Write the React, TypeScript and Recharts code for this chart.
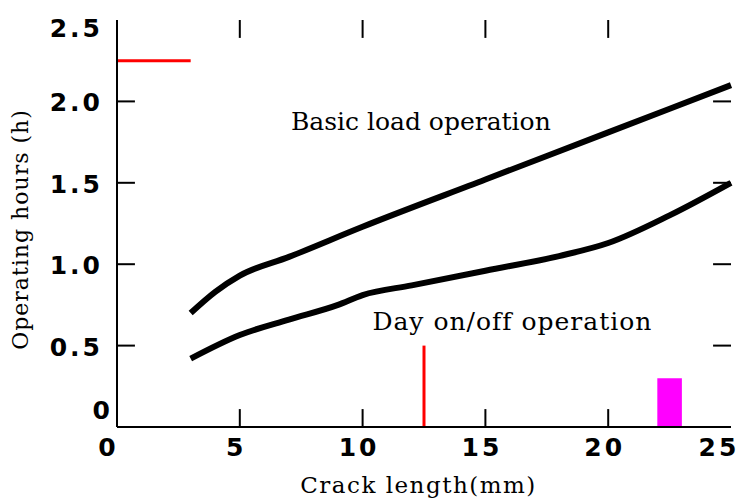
import React from 'react';
import { LineChart, Line, XAxis, YAxis, ReferenceDot, ReferenceLine, ReferenceArea } from 'recharts';

// Crack length (mm) and operating hours (h)
const crackLengthBasic = [3, 4, 5, 7, 10, 15, 20, 25];
const hoursBasic = [0.70, 0.83, 0.93, 1.045, 1.23, 1.52, 1.81, 2.10];

const crackLengthDay = [3, 5, 7, 9, 10, 12, 15, 18, 20, 22.5, 25];
const hoursDay = [0.42, 0.565, 0.66, 0.75, 0.81, 0.87, 0.96, 1.05, 1.13, 1.30, 1.50];

const xTicks = [0, 5, 10, 15, 20, 25];
const yTicks = [0, 0.5, 1.0, 1.5, 2.0, 2.5];

const basicLabel = 'Basic load operation';
const dayLabel = 'Day on/off operation';
const xTitle = 'Crack length(mm)';
const yTitle = 'Operating hours (h)';

const X_DOMAIN: [number, number] = [0, 25];
const Y_DOMAIN: [number, number] = [0, 2.5];

const basicData = crackLengthBasic.map((x, i) => ({ x, y: hoursBasic[i] }));
const dayData = crackLengthDay.map((x, i) => ({ x, y: hoursDay[i] }));

const TICK_FONT = { fontFamily: 'DejaVu Sans', fontWeight: 'bold' as const, fontSize: 25, letterSpacing: 3 };
const SERIF = 'DejaVu Serif';
const TICK_LEN_Y_UNITS = 0.11;
const TICK_LEN_X_UNITS = 0.73;
const axisLineStyle = { stroke: '#000', strokeWidth: 2 };

const BottomTick = (props: any) => {
  const { x, y, payload } = props;
  const v = payload.value;
  let dx = -3.5;
  if (v === 0) dx = -8.5;
  if (v === 25) dx = -12;
  return (
    <text x={x + dx} y={y + 29} textAnchor="middle" fill="#000" {...TICK_FONT}>{String(v)}</text>
  );
};

const LeftTick = (props: any) => {
  const { x, y, payload } = props;
  const v = payload.value;
  const label = v === 0 ? '0' : v.toFixed(1);
  let tx = x - 14;
  let ty = y + 10;
  if (v === 0) { tx = x - 4; ty = y - 8; }
  if (v === 2.5) { ty = y + 17; }
  return (
    <text x={tx} y={ty} textAnchor="end" fill="#000" {...TICK_FONT}>{label}</text>
  );
};

const XTitle = (props: any) => {
  const vb = props.viewBox || { x: 117, y: 427, width: 614, height: 73 };
  return (
    <text x={vb.x + vb.width / 2 - 5.5} y={vb.y + 66} textAnchor="middle" fill="#000"
      fontFamily={SERIF} fontSize={23} letterSpacing={1.5}>{xTitle}</text>
  );
};

const YTitle = (props: any) => {
  const vb = props.viewBox || { x: 0, y: 20, width: 117, height: 407 };
  const cx = vb.x + 28;
  const cy = vb.y + vb.height / 2 + 6;
  return (
    <text x={cx} y={cy} transform={`rotate(-90, ${cx}, ${cy})`} textAnchor="middle" fill="#000"
      fontFamily={SERIF} fontSize={22} letterSpacing={1}>{yTitle}</text>
  );
};

const annot = (text: string, ls: number) => (props: any) => {
  const vb = props.viewBox || { x: 0, y: 0 };
  return (
    <text x={vb.x} y={vb.y} textAnchor="middle" fill="#000" fontFamily={SERIF} fontSize={25} letterSpacing={ls}>{text}</text>
  );
};

const innerX = xTicks.filter((t) => t > X_DOMAIN[0] && t < X_DOMAIN[1]);
const innerY = yTicks.filter((t) => t > Y_DOMAIN[0] && t < Y_DOMAIN[1]);

export default function App() {
  const tickMarks: React.ReactNode[] = [];
  innerX.forEach((t) => {
    tickMarks.push(
      <ReferenceLine key={`t${t}`} ifOverflow="visible"
        segment={[{ x: t, y: Y_DOMAIN[1] }, { x: t, y: Y_DOMAIN[1] - TICK_LEN_Y_UNITS }]}
        stroke="#000" strokeWidth={2} xAxisId={0} yAxisId={0} />,
      <ReferenceLine key={`b${t}`} ifOverflow="visible"
        segment={[{ x: t, y: Y_DOMAIN[0] }, { x: t, y: Y_DOMAIN[0] + TICK_LEN_Y_UNITS }]}
        stroke="#000" strokeWidth={2} xAxisId={0} yAxisId={0} />
    );
  });
  innerY.forEach((t) => {
    tickMarks.push(
      <ReferenceLine key={`r${t}`} ifOverflow="visible"
        segment={[{ x: X_DOMAIN[1], y: t }, { x: X_DOMAIN[1] - TICK_LEN_X_UNITS, y: t }]}
        stroke="#000" strokeWidth={2} xAxisId={0} yAxisId={0} />,
      <ReferenceLine key={`l${t}`} ifOverflow="visible"
        segment={[{ x: X_DOMAIN[0], y: t }, { x: X_DOMAIN[0] + TICK_LEN_X_UNITS, y: t }]}
        stroke="#000" strokeWidth={2} xAxisId={0} yAxisId={0} />
    );
  });

  return (
    <div style={{ position: 'absolute', left: 0, top: 0, width: 740, height: 500, background: '#fff' }}>
      <LineChart width={740} height={500} margin={{ top: 20, right: 9, bottom: 0, left: 0 }}>
        <XAxis type="number" dataKey="x" domain={X_DOMAIN} ticks={xTicks} xAxisId={0}
          height={73} tickSize={0} tickMargin={0} tick={<BottomTick />} tickLine={false}
          axisLine={axisLineStyle} label={<XTitle />} />
        <XAxis type="number" dataKey="x" domain={X_DOMAIN} ticks={xTicks} xAxisId="top" orientation="top"
          height={0} tickSize={0} tickMargin={0} tick={false} tickLine={false}
          axisLine={axisLineStyle} />
        <YAxis type="number" dataKey="y" domain={Y_DOMAIN} ticks={yTicks} yAxisId={0}
          width={117} tickSize={0} tickMargin={0} tick={<LeftTick />} tickLine={false}
          axisLine={axisLineStyle} label={<YTitle />} />
        <YAxis type="number" dataKey="y" domain={Y_DOMAIN} ticks={yTicks} yAxisId="right" orientation="right"
          width={0} tickSize={0} tickMargin={0} tick={false} tickLine={false}
          axisLine={axisLineStyle} />
        <Line data={basicData} dataKey="y" type="monotone" stroke="#000" strokeWidth={6} dot={false}
          isAnimationActive={false} xAxisId={0} yAxisId={0} />
        <Line data={dayData} dataKey="y" type="monotone" stroke="#000" strokeWidth={6} dot={false}
          isAnimationActive={false} xAxisId={0} yAxisId={0} />
        {tickMarks}
        <ReferenceLine segment={[{ x: 12.5, y: 0 }, { x: 12.5, y: 0.5 }]} stroke="red" strokeWidth={3} ifOverflow="visible" />
        <ReferenceLine segment={[{ x: 0, y: 2.25 }, { x: 3, y: 2.25 }]} stroke="red" strokeWidth={3} ifOverflow="visible" />
        <ReferenceArea x1={22} x2={23} y1={0} y2={0.3} fill="magenta" fillOpacity={1} ifOverflow="visible" />
        <ReferenceDot x={12.37} y={1.824} r={0} xAxisId={0} yAxisId={0} fill="none" stroke="none"
          label={annot(basicLabel, 0)} />
        <ReferenceDot x={16.1} y={0.596} r={0} xAxisId={0} yAxisId={0} fill="none" stroke="none"
          label={annot(dayLabel, 1)} />
      </LineChart>
    </div>
  );
}
